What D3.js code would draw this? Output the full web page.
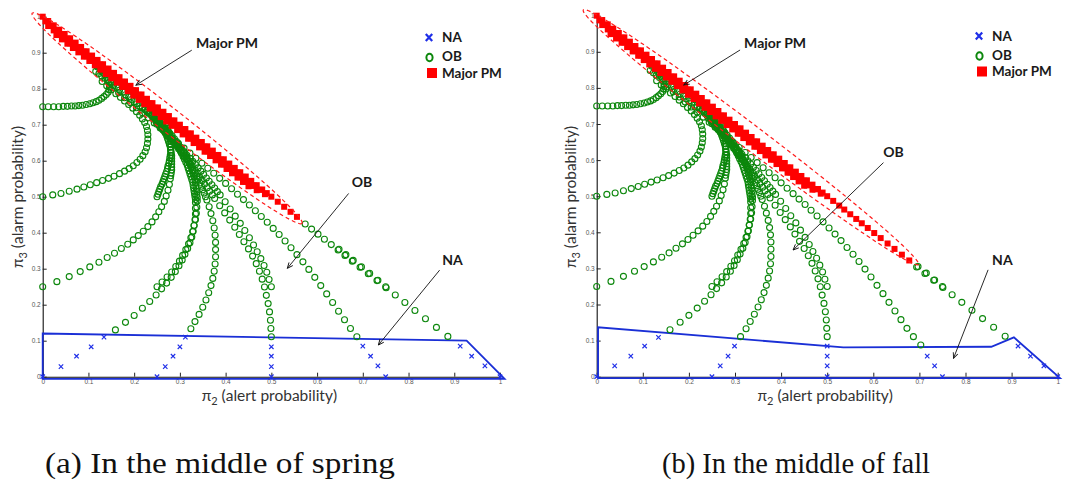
<!DOCTYPE html>
<html>
<head>
<meta charset="utf-8">
<script src="https://cdn.jsdelivr.net/npm/d3@7"></script>
<style>
  body { margin: 0; background: #fff; }
</style>
</head>
<body>
<div id="chart"></div>
<script>

// ---------- data (pi2 = alert probability, pi3 = alarm probability) ----------
const tickValues = [0, 0.1, 0.2, 0.3, 0.4, 0.5, 0.6, 0.7, 0.8, 0.9, 1];
const tickLabels = ['0', '0.1', '0.2', '0.3', '0.4', '0.5', '0.6', '0.7', '0.8', '0.9', '1'];
const legendLabels = ['NA', 'OB', 'Major PM'];
const captions = ['(a) In the middle of spring', '(b) In the middle of fall'];

// OB trajectories, same in both panels
const obTrackA = [[0,0.75],[0.012,0.75],[0.024,0.75],[0.035,0.75],[0.045,0.751],[0.054,0.751],[0.063,0.752],[0.071,0.752],[0.079,0.753],[0.087,0.754],[0.095,0.756],[0.103,0.758],[0.11,0.761],[0.117,0.764],[0.123,0.768],[0.129,0.773],[0.134,0.778],[0.139,0.784],[0.143,0.79],[0.145,0.797],[0.146,0.804],[0.146,0.811],[0.145,0.818],[0.143,0.825],[0.14,0.832],[0.136,0.839],[0.131,0.846],[0.126,0.853],[0.12,0.86]];
const obTrackB = [[0,0.5],[0.022,0.505],[0.04,0.509],[0.058,0.515],[0.075,0.521],[0.09,0.527],[0.104,0.533],[0.118,0.539],[0.131,0.545],[0.144,0.551],[0.156,0.557],[0.168,0.564],[0.179,0.571],[0.189,0.578],[0.198,0.586],[0.206,0.595],[0.213,0.604],[0.219,0.614],[0.224,0.625],[0.227,0.636],[0.229,0.648],[0.23,0.66],[0.23,0.672],[0.229,0.684],[0.227,0.695],[0.223,0.706],[0.218,0.716],[0.212,0.726],[0.205,0.736],[0.197,0.746],[0.188,0.756],[0.179,0.766],[0.17,0.776],[0.16,0.786],[0.15,0.797],[0.14,0.808],[0.13,0.82]];
const obTrackD = [[0,0.25],[0.031,0.264],[0.058,0.278],[0.082,0.292],[0.103,0.305],[0.123,0.318],[0.141,0.331],[0.157,0.343],[0.172,0.356],[0.186,0.368],[0.198,0.38],[0.209,0.392],[0.22,0.404],[0.23,0.417],[0.239,0.43],[0.247,0.444],[0.254,0.458],[0.26,0.472],[0.266,0.487],[0.27,0.502],[0.274,0.518],[0.277,0.534],[0.279,0.55],[0.28,0.558],[0.281,0.566],[0.282,0.574],[0.282,0.582],[0.282,0.59],[0.282,0.598],[0.282,0.606],[0.282,0.614],[0.281,0.622],[0.28,0.63],[0.279,0.638],[0.277,0.646],[0.275,0.654],[0.273,0.662],[0.271,0.669],[0.268,0.677],[0.265,0.684],[0.262,0.691],[0.259,0.697],[0.255,0.704],[0.251,0.71],[0.247,0.716],[0.243,0.722],[0.238,0.727],[0.233,0.733],[0.228,0.738],[0.223,0.743],[0.218,0.748]];
const obTrackJ = [[0.25,0.5],[0.252,0.507],[0.254,0.514],[0.256,0.521],[0.258,0.528],[0.261,0.535],[0.263,0.542],[0.265,0.549],[0.267,0.556],[0.269,0.563],[0.271,0.57],[0.273,0.578],[0.274,0.585],[0.276,0.593],[0.277,0.6],[0.278,0.608],[0.279,0.615],[0.28,0.623],[0.28,0.63],[0.28,0.638],[0.28,0.645],[0.28,0.653],[0.279,0.66],[0.278,0.668],[0.277,0.675],[0.275,0.682],[0.273,0.689],[0.271,0.696],[0.268,0.702],[0.265,0.708],[0.262,0.714],[0.259,0.72],[0.255,0.725],[0.251,0.73],[0.247,0.735],[0.243,0.74],[0.238,0.745]];
const obTrackC = [[0.159,0.13],[0.181,0.151],[0.2,0.17],[0.218,0.19],[0.234,0.209],[0.248,0.227],[0.26,0.244],[0.271,0.26],[0.281,0.276],[0.29,0.292],[0.298,0.308],[0.305,0.324],[0.311,0.34],[0.317,0.356],[0.322,0.372],[0.326,0.388],[0.329,0.404],[0.331,0.42],[0.333,0.436],[0.334,0.452],[0.334,0.468],[0.334,0.484],[0.334,0.492],[0.333,0.5],[0.332,0.508],[0.331,0.516],[0.33,0.524],[0.329,0.532],[0.328,0.54],[0.326,0.548],[0.324,0.556],[0.322,0.564],[0.32,0.572],[0.318,0.58],[0.316,0.588],[0.313,0.596],[0.31,0.604],[0.307,0.612],[0.304,0.62],[0.301,0.627],[0.298,0.635],[0.294,0.642],[0.29,0.65],[0.286,0.657],[0.282,0.664],[0.278,0.671],[0.274,0.678],[0.269,0.685],[0.265,0.692],[0.26,0.698],[0.255,0.705],[0.25,0.711],[0.245,0.717],[0.24,0.723],[0.235,0.729],[0.229,0.735],[0.224,0.741],[0.218,0.746],[0.212,0.752],[0.206,0.758],[0.2,0.764],[0.194,0.77],[0.188,0.777],[0.181,0.783],[0.175,0.79],[0.168,0.796],[0.162,0.803],[0.155,0.809],[0.149,0.816],[0.142,0.822],[0.136,0.829],[0.129,0.835],[0.123,0.842],[0.116,0.848]];
const obTrackI = [[0.25,0.25],[0.261,0.263],[0.272,0.277],[0.282,0.291],[0.291,0.306],[0.299,0.321],[0.306,0.337],[0.313,0.353],[0.319,0.369],[0.324,0.386],[0.328,0.403],[0.331,0.42],[0.334,0.437],[0.336,0.454],[0.337,0.471],[0.338,0.488],[0.338,0.497],[0.337,0.505],[0.337,0.514],[0.336,0.522],[0.335,0.53],[0.334,0.539],[0.333,0.547],[0.331,0.556],[0.329,0.564],[0.327,0.573],[0.325,0.581],[0.322,0.59],[0.319,0.598],[0.316,0.606],[0.313,0.614],[0.309,0.622],[0.305,0.63],[0.301,0.638],[0.297,0.646],[0.292,0.654],[0.288,0.661],[0.283,0.669],[0.278,0.676],[0.273,0.684],[0.268,0.691],[0.262,0.698],[0.257,0.705],[0.251,0.712],[0.245,0.718],[0.239,0.725]];
const obTrackE = [[0.324,0.133],[0.333,0.153],[0.342,0.173],[0.35,0.193],[0.357,0.213],[0.363,0.233],[0.368,0.253],[0.372,0.273],[0.375,0.293],[0.377,0.313],[0.378,0.333],[0.378,0.353],[0.378,0.373],[0.377,0.393],[0.375,0.413],[0.372,0.433],[0.368,0.453],[0.364,0.472],[0.359,0.491],[0.356,0.5],[0.353,0.51],[0.35,0.519],[0.347,0.529],[0.344,0.538],[0.34,0.548],[0.337,0.557],[0.333,0.566],[0.329,0.575],[0.325,0.584],[0.321,0.593],[0.317,0.602],[0.313,0.611],[0.308,0.62],[0.303,0.628],[0.298,0.637],[0.293,0.645],[0.288,0.654],[0.283,0.662],[0.277,0.67],[0.272,0.678],[0.266,0.686],[0.26,0.693],[0.254,0.701],[0.248,0.708],[0.242,0.716]];
const obTrackF = [[0.5,0.111],[0.499,0.134],[0.498,0.157],[0.496,0.18],[0.493,0.203],[0.489,0.226],[0.485,0.249],[0.48,0.271],[0.474,0.293],[0.467,0.314],[0.459,0.335],[0.45,0.355],[0.44,0.375],[0.43,0.395],[0.42,0.415],[0.409,0.435],[0.398,0.455],[0.387,0.475],[0.376,0.495],[0.371,0.505],[0.365,0.515],[0.36,0.525],[0.354,0.535],[0.349,0.545],[0.343,0.555],[0.338,0.565],[0.332,0.575],[0.327,0.585],[0.321,0.595],[0.315,0.604],[0.309,0.614],[0.303,0.623],[0.297,0.633],[0.291,0.642],[0.285,0.652],[0.279,0.661],[0.273,0.671],[0.267,0.68],[0.261,0.689],[0.255,0.698],[0.249,0.707]];
const obTrackG = [[0.5,0.25],[0.495,0.27],[0.49,0.29],[0.484,0.309],[0.477,0.328],[0.469,0.347],[0.461,0.366],[0.452,0.386],[0.442,0.406],[0.432,0.426],[0.421,0.446],[0.41,0.466],[0.399,0.486],[0.388,0.505],[0.382,0.514],[0.376,0.524],[0.37,0.533],[0.364,0.543],[0.358,0.552],[0.352,0.562],[0.346,0.571],[0.34,0.58],[0.334,0.589],[0.328,0.598],[0.322,0.607],[0.315,0.616],[0.309,0.625],[0.302,0.634],[0.296,0.642],[0.289,0.651],[0.283,0.659],[0.276,0.668],[0.27,0.676],[0.263,0.685],[0.257,0.693],[0.25,0.701]];
const obTrackH = [[0.687,0.111],[0.673,0.134],[0.66,0.158],[0.647,0.182],[0.634,0.206],[0.621,0.23],[0.608,0.253],[0.595,0.276],[0.582,0.298],[0.569,0.319],[0.556,0.339],[0.543,0.358],[0.53,0.377],[0.517,0.395],[0.504,0.412],[0.491,0.429],[0.478,0.445],[0.465,0.461],[0.452,0.477],[0.439,0.492],[0.426,0.507],[0.413,0.522],[0.4,0.537],[0.387,0.551],[0.374,0.565],[0.361,0.579],[0.348,0.593],[0.335,0.607],[0.322,0.621],[0.309,0.635],[0.296,0.649],[0.283,0.663],[0.27,0.677],[0.257,0.691],[0.244,0.705],[0.231,0.719],[0.218,0.733],[0.205,0.747],[0.192,0.761],[0.179,0.775],[0.166,0.789],[0.153,0.803]];
const obTrackK = [[0.886,0.112],[0.861,0.137],[0.837,0.161],[0.814,0.184],[0.792,0.206],[0.771,0.227],[0.751,0.247],[0.731,0.267],[0.712,0.286],[0.694,0.304]];
const obTrackL = [[0.75,0.25],[0.733,0.268],[0.715,0.287],[0.697,0.305]];

// OB points only seen in one panel
const obLeftExtra = [[0.677,0.321],[0.661,0.337],[0.646,0.352],[0.631,0.367],[0.616,0.382],[0.602,0.396],[0.588,0.41],[0.574,0.424],[0.679,0.323],[0.663,0.339],[0.648,0.354]];
const obRightExtra = [[0.312,0.111],[0.703,0.088]];

// NA points
const naLeft = [[0,0],[0.04,0.028],[0.074,0.057],[0.106,0.083],[0.134,0.11],[0.25,0],[0.268,0.028],[0.285,0.057],[0.3,0.083],[0.312,0.11],[0.5,0],[0.5,0.028],[0.5,0.057],[0.5,0.083],[0.7,0.085],[0.717,0.057],[0.733,0.03],[0.75,0],[0.913,0.085],[0.938,0.057],[0.967,0.03],[1,0]];
const naRight = [[0,0],[0.039,0.03],[0.074,0.057],[0.104,0.085],[0.134,0.109],[0.25,0],[0.268,0.03],[0.285,0.057],[0.299,0.085],[0.5,0],[0.5,0.03],[0.5,0.057],[0.5,0.085],[0.717,0.057],[0.733,0.03],[0.75,0],[0.914,0.085],[0.941,0.057],[0.97,0.03],[1,0]];

// Major PM band (four close rows), same in both panels
const pmRowA = [[0,1],[0.012,0.988],[0.024,0.976],[0.036,0.964],[0.048,0.952],[0.06,0.94],[0.072,0.928],[0.084,0.916],[0.096,0.904],[0.108,0.892],[0.12,0.88],[0.132,0.868],[0.144,0.856],[0.156,0.844],[0.168,0.832],[0.18,0.82],[0.192,0.808],[0.204,0.796],[0.216,0.784],[0.228,0.772],[0.24,0.76],[0.252,0.748],[0.264,0.736],[0.276,0.724],[0.288,0.712],[0.3,0.7],[0.312,0.688],[0.324,0.676],[0.336,0.664],[0.348,0.652],[0.36,0.64],[0.372,0.628],[0.384,0.616],[0.396,0.604],[0.408,0.592],[0.42,0.58],[0.432,0.568],[0.444,0.556],[0.456,0.544],[0.468,0.532],[0.48,0.52],[0.49,0.51]];
const pmRowB = [[0.006,0.987],[0.018,0.975],[0.03,0.963],[0.042,0.951],[0.054,0.939],[0.066,0.927],[0.078,0.915],[0.09,0.903],[0.102,0.891],[0.114,0.879],[0.126,0.867],[0.138,0.855],[0.15,0.843],[0.162,0.831],[0.174,0.819],[0.186,0.807],[0.198,0.795],[0.21,0.783],[0.222,0.771],[0.234,0.759],[0.246,0.747],[0.258,0.735],[0.27,0.723],[0.282,0.711],[0.294,0.699],[0.306,0.687],[0.318,0.675],[0.33,0.663],[0.342,0.651],[0.354,0.639],[0.366,0.627],[0.378,0.615],[0.39,0.603],[0.402,0.591],[0.414,0.579],[0.426,0.567],[0.438,0.555],[0.45,0.543],[0.462,0.531],[0.474,0.519],[0.486,0.507]];
const pmRowC = [[0.012,0.974],[0.024,0.962],[0.036,0.95],[0.048,0.938],[0.06,0.926],[0.072,0.914],[0.084,0.902],[0.096,0.89],[0.108,0.878],[0.12,0.866],[0.132,0.854],[0.144,0.842],[0.156,0.83],[0.168,0.818],[0.18,0.806],[0.192,0.794],[0.204,0.782],[0.216,0.77],[0.228,0.758],[0.24,0.746],[0.252,0.734],[0.264,0.722],[0.276,0.71],[0.288,0.698],[0.3,0.686],[0.312,0.674],[0.324,0.662],[0.336,0.65],[0.348,0.638],[0.36,0.626],[0.372,0.614],[0.384,0.602],[0.396,0.59],[0.408,0.578],[0.42,0.566],[0.432,0.554],[0.444,0.542],[0.456,0.53],[0.468,0.518]];
const pmRowD = [[0.03,0.949],[0.042,0.937],[0.054,0.925],[0.066,0.913],[0.078,0.901],[0.09,0.889],[0.102,0.877],[0.114,0.865],[0.126,0.853],[0.138,0.841],[0.15,0.829],[0.162,0.817],[0.174,0.805],[0.186,0.793],[0.198,0.781],[0.21,0.769],[0.222,0.757],[0.234,0.745],[0.246,0.733],[0.258,0.721],[0.27,0.709],[0.282,0.697],[0.294,0.685],[0.306,0.673],[0.318,0.661],[0.33,0.649],[0.342,0.637],[0.354,0.625],[0.366,0.613],[0.378,0.601],[0.39,0.589],[0.402,0.577],[0.414,0.565],[0.426,0.553],[0.438,0.541],[0.45,0.529]];
const pmLeftTail = [[0.5,0.5],[0.514,0.486],[0.528,0.472],[0.542,0.458],[0.556,0.444]];
const pmRightTail = [[0.5,0.5],[0.513,0.487],[0.526,0.474],[0.537,0.463],[0.55,0.45],[0.563,0.437],[0.575,0.425],[0.588,0.412],[0.602,0.398],[0.616,0.384],[0.631,0.369],[0.646,0.354],[0.662,0.338],[0.678,0.322]];

// NA region outlines
const naBoxLeft = [[0,-0.006],[0,0.12],[0.927,0.1],[1.01,-0.006]];
const naBoxRight = [[0.003,-0.004],[0.003,0.137],[0.535,0.081],[0.856,0.083],[0.905,0.109],[1.005,-0.004]];

// dashed ellipses around Major PM (tips)
const pmEllipseLeft = [[-0.023,1.014],[0.567,0.43]];
const pmEllipseRight = [[-0.029,1.02],[0.698,0.315]];

// ---------- drawing ----------
const width = 1078, height = 484;
const svg = d3.select('#chart').append('svg')
    .attr('width', width)
    .attr('height', height)
    .style('font-family', 'Lato, "Liberation Sans", sans-serif');

svg.append('defs').append('marker')
    .attr('id', 'head')
    .attr('viewBox', '0 0 10 10')
    .attr('refX', 9).attr('refY', 5)
    .attr('markerWidth', 7).attr('markerHeight', 7)
    .attr('markerUnits', 'userSpaceOnUse')
    .attr('orient', 'auto')
    .append('path')
    .attr('d', 'M1,1.5 L9,5 L1,8.5')
    .attr('fill', 'none')
    .attr('stroke', '#111')
    .attr('stroke-width', 1.3);

const obShared = [obTrackA, obTrackB, obTrackD, obTrackJ, obTrackC, obTrackI, obTrackE, obTrackF, obTrackG, obTrackH, obTrackK, obTrackL].flat();
const pmShared = [pmRowD, pmRowC, pmRowB, pmRowA].flat();

const panels = [
  {
    x0: 42.7, x1: 500, y0: 376.7, y1: 16.7,
    ob: obShared.concat(obLeftExtra), na: naLeft, pm: pmShared.concat(pmLeftTail),
    box: naBoxLeft, ell: pmEllipseLeft,
    notes: [
      {text: 'Major PM', at: [0.403, 0.927], from: [0.326, 0.907], to: [0.204, 0.81]},
      {text: 'OB', at: [0.698, 0.54], from: [0.669, 0.509], to: [0.535, 0.301]},
      {text: 'NA', at: [0.896, 0.324], from: [0.868, 0.296], to: [0.734, 0.088]}
    ],
    legendX: 429, legendY: 37.5, yLabelX: 17, caption: captions[0], captionX: 220, captionW: 350
  },
  {
    x0: 596.7, x1: 1057.7, y0: 376.7, y1: 15.7,
    ob: obShared.concat(obRightExtra), na: naRight, pm: pmShared.concat(pmRightTail),
    box: naBoxRight, ell: pmEllipseRight,
    notes: [
      {text: 'Major PM', at: [0.387, 0.924], from: [0.311, 0.905], to: [0.189, 0.808]},
      {text: 'OB', at: [0.644, 0.622], from: [0.622, 0.593], to: [0.426, 0.351]},
      {text: 'NA', at: [0.88, 0.323], from: [0.849, 0.296], to: [0.774, 0.051]}
    ],
    legendX: 979, legendY: 36, yLabelX: 570, caption: captions[1], captionX: 796, captionW: 268
  }
];

panels.forEach(drawPanel);

function drawPanel(p) {
    const x = d3.scaleLinear().domain([0, 1]).range([p.x0, p.x1]);
    const y = d3.scaleLinear().domain([0, 1]).range([p.y0, p.y1]);
    const g = svg.append('g');

    // axes
    const xAxis = d3.axisBottom(x)
        .tickValues(tickValues)
        .tickFormat((d, i) => tickLabels[i])
        .tickSizeInner(-4).tickSizeOuter(0).tickPadding(3);
    const yAxis = d3.axisLeft(y)
        .tickValues(tickValues)
        .tickFormat((d, i) => tickLabels[i])
        .tickSizeInner(-4).tickSizeOuter(0).tickPadding(2);

    const gx = g.append('g').attr('transform', 'translate(0,' + p.y0 + ')').call(xAxis);
    const gy = g.append('g').attr('transform', 'translate(' + p.x0 + ',0)').call(yAxis);
    [gx, gy].forEach(a => {
        a.select('.domain').attr('stroke', '#111').attr('stroke-width', 1.1);
        a.selectAll('.tick line').attr('stroke', '#222');
        a.selectAll('.tick text')
            .attr('fill', '#555')
            .style('font-family', '"Liberation Sans", Arial, sans-serif')
            .style('font-size', '6.5px');
    });

    // NA outline
    g.append('path')
        .datum(p.box)
        .attr('d', d3.line().x(d => x(d[0])).y(d => y(d[1])).curve(d3.curveLinearClosed))
        .attr('fill', 'none')
        .attr('stroke', '#1a2fd6')
        .attr('stroke-width', 1.8);

    // OB circles
    g.append('g').selectAll('circle')
        .data(p.ob)
        .join('circle')
        .attr('cx', d => x(d[0]))
        .attr('cy', d => y(d[1]))
        .attr('r', 3)
        .attr('fill', 'none')
        .attr('stroke', '#0c870c')
        .attr('stroke-width', 1.1);

    // NA crosses
    g.append('g').selectAll('path')
        .data(p.na)
        .join('path')
        .attr('transform', d => 'translate(' + x(d[0]) + ',' + y(d[1]) + ')')
        .attr('d', 'M-2.2,-2.2L2.2,2.2M-2.2,2.2L2.2,-2.2')
        .attr('stroke', '#1f2fe8')
        .attr('stroke-width', 1.2);

    // Major PM squares
    const s = 6;
    g.append('g').selectAll('rect')
        .data(p.pm)
        .join('rect')
        .attr('x', d => x(d[0]) - s / 2)
        .attr('y', d => y(d[1]) - s / 2)
        .attr('width', s).attr('height', s)
        .attr('fill', '#ff0000');

    // dashed ellipse
    const a = [x(p.ell[0][0]), y(p.ell[0][1])];
    const b = [x(p.ell[1][0]), y(p.ell[1][1])];
    const cx = (a[0] + b[0]) / 2, cy = (a[1] + b[1]) / 2;
    const rx = Math.hypot(b[0] - a[0], b[1] - a[1]) / 2;
    const ang = Math.atan2(b[1] - a[1], b[0] - a[0]) * 180 / Math.PI;
    g.append('ellipse')
        .attr('transform', 'translate(' + cx + ',' + (cy + 1.5) + ') rotate(' + ang + ')')
        .attr('rx', rx).attr('ry', 12)
        .attr('fill', 'none')
        .attr('stroke', '#ff1a1a')
        .attr('stroke-width', 1.2)
        .attr('stroke-dasharray', '4,3');

    // annotations
    p.notes.forEach(n => {
        g.append('line')
            .attr('x1', x(n.from[0])).attr('y1', y(n.from[1]))
            .attr('x2', x(n.to[0])).attr('y2', y(n.to[1]))
            .attr('stroke', '#111')
            .attr('stroke-width', 0.9)
            .attr('marker-end', 'url(#head)');
        g.append('text')
            .attr('x', x(n.at[0])).attr('y', y(n.at[1]))
            .attr('dy', '0.36em')
            .attr('text-anchor', 'middle')
            .attr('font-weight', 'bold')
            .attr('font-size', 14)
            .attr('fill', '#1a1a1a')
            .text(n.text);
    });

    // legend
    const lg = g.append('g').attr('transform', 'translate(' + p.legendX + ',' + p.legendY + ')');
    lg.append('path')
        .attr('d', 'M-3.2,-3.5L3.2,3.5M-3.2,3.5L3.2,-3.5')
        .attr('stroke', '#1f2fe8').attr('stroke-width', 2.2);
    lg.append('ellipse')
        .attr('cx', 0.5).attr('cy', 20).attr('rx', 3.1).attr('ry', 3.8)
        .attr('fill', 'none').attr('stroke', '#0c870c').attr('stroke-width', 2);
    lg.append('rect')
        .attr('x', -2).attr('y', 30.5).attr('width', 10).attr('height', 10)
        .attr('fill', '#ff0000');
    lg.selectAll('text.leg')
        .data(legendLabels)
        .join('text')
        .attr('class', 'leg')
        .attr('x', 13)
        .attr('y', (d, i) => [0, 19, 35.5][i])
        .attr('dy', '0.36em')
        .attr('font-weight', 'bold')
        .attr('font-size', 13.5)
        .attr('fill', '#1a1a1a')
        .text(d => d);

    // axis titles
    const xt = g.append('text')
        .attr('x', (p.x0 + p.x1) / 2 - 2)
        .attr('y', 401)
        .attr('text-anchor', 'middle')
        .attr('font-size', 15.5)
        .attr('fill', '#333');
    xt.append('tspan').text('\u03c0');
    xt.append('tspan').attr('dy', 4).attr('font-size', 11).text('2');
    xt.append('tspan').attr('dy', -4).text(' (alert probability)');

    const yt = g.append('text')
        .attr('transform', 'translate(' + p.yLabelX + ',197) rotate(-90)')
        .attr('text-anchor', 'middle')
        .attr('dy', '0.36em')
        .attr('font-size', 15.5)
        .attr('fill', '#333');
    yt.append('tspan').text('\u03c0');
    yt.append('tspan').attr('dy', 4).attr('font-size', 11).text('3');
    yt.append('tspan').attr('dy', -4).text(' (alarm probability)');

    // caption
    svg.append('text')
        .attr('x', p.captionX).attr('y', 473)
        .attr('text-anchor', 'middle')
        .attr('textLength', p.captionW)
        .attr('lengthAdjust', 'spacingAndGlyphs')
        .style('font-family', '"Liberation Serif", "DejaVu Serif", serif')
        .attr('font-size', 30)
        .attr('fill', '#111')
        .text(p.caption);
}
</script>
</body>
</html>
